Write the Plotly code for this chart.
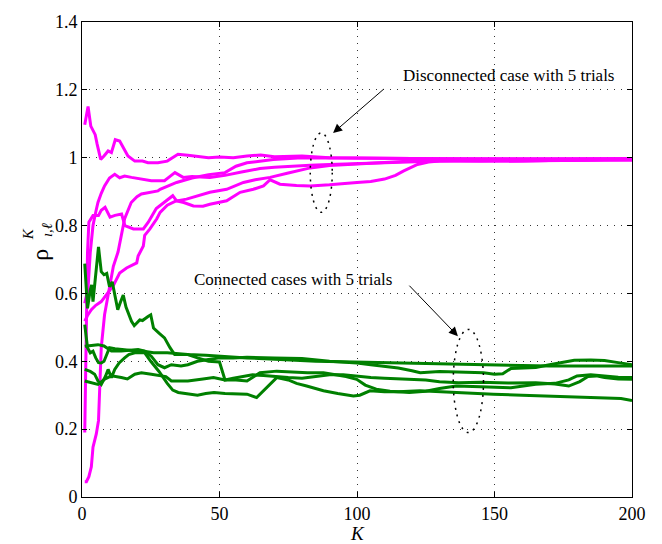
import plotly.graph_objects as go

# ---------------- data ----------------
# Disconnected case (magenta), 5 trials
m1_k = [1, 2.2, 3.2, 4.8, 5.5, 6.8, 8, 9.5, 10.7, 12.1, 13.7, 15, 16.7, 19.2, 22, 24, 27.6, 31, 34.9, 38.5, 42, 46, 50, 55, 60, 65, 70, 80, 90, 100, 110, 120, 130, 140, 150, 160, 170, 180, 190, 200]
m1_v = [1.097, 1.151, 1.093, 1.068, 1.04, 0.995, 1.005, 1.02, 1.015, 1.053, 1.049, 1.03, 1.005, 0.99, 0.99, 0.985, 0.985, 0.99, 1.01, 1.007, 1.003, 1.0, 1.002, 1.0, 1.005, 1.008, 1.003, 1.005, 1.0, 1.0, 0.998, 0.998, 0.997, 0.996, 0.995, 0.996, 0.996, 0.997, 0.998, 0.998]

m2_k = [1, 2.2, 3, 4, 5, 5.8, 7, 8.2, 10, 11.9, 13.7, 15.5, 18, 20.4, 25.2, 28.4, 30, 32, 33.8, 36.8, 40, 46.5, 52, 58, 64.7, 70, 75, 83, 90, 100, 110, 120, 130, 145, 160, 175, 190, 200]
m2_v = [0.571, 0.615, 0.72, 0.80, 0.84, 0.868, 0.895, 0.917, 0.94, 0.951, 0.941, 0.946, 0.942, 0.939, 0.932, 0.932, 0.932, 0.945, 0.956, 0.942, 0.945, 0.942, 0.948, 0.958, 0.968, 0.972, 0.975, 0.978, 0.98, 0.983, 0.986, 0.988, 0.99, 0.99, 0.99, 0.992, 0.993, 0.993]

m3_k = [1, 1.5, 2, 2.5, 4, 6, 7, 8.4, 10.2, 12, 14.4, 15.6, 18.7, 22.3, 24.1, 27, 30, 33, 34.4, 37, 40.5, 44, 46.5, 52.6, 57.5, 62.3, 66, 68.4, 72, 78, 83, 90, 100, 105, 110, 114, 117, 120, 122, 126, 130, 140, 150, 160, 170, 180, 190, 200]
m3_v = [0.19, 0.45, 0.72, 0.81, 0.83, 0.83, 0.845, 0.854, 0.825, 0.83, 0.834, 0.80, 0.79, 0.79, 0.81, 0.85, 0.868, 0.888, 0.873, 0.868, 0.858, 0.857, 0.863, 0.873, 0.898, 0.907, 0.917, 0.935, 0.922, 0.918, 0.917, 0.92, 0.927, 0.93, 0.937, 0.948, 0.961, 0.972, 0.98, 0.987, 0.99, 0.992, 0.99, 0.99, 0.992, 0.993, 0.994, 0.995]

m4_k = [1, 2, 3.4, 5, 7, 8, 10, 11.5, 13.7, 16.2, 18, 19.9, 20.4, 22.3, 22.8, 24.7, 27.2, 28.4, 31, 34, 38, 42, 46.5, 52.6, 58.7, 63, 68.4, 75, 83, 90, 100, 110, 120, 130, 145, 160, 175, 190, 200]
m4_v = [0.518, 0.535, 0.552, 0.565, 0.576, 0.586, 0.608, 0.625, 0.66, 0.675, 0.683, 0.69, 0.71, 0.74, 0.771, 0.79, 0.82, 0.839, 0.86, 0.872, 0.878, 0.888, 0.898, 0.907, 0.927, 0.935, 0.942, 0.955, 0.97, 0.977, 0.982, 0.986, 0.99, 0.992, 0.99, 0.991, 0.993, 0.993, 0.993]

m5_k = [1, 1.6, 2.5, 3.4, 4, 5.2, 6, 6.4, 7, 8.2, 10, 11.4, 13.1, 14.3, 15.5, 17.9, 20, 21.6, 24.6, 27.6, 28.4, 31, 34.4, 40, 46, 52, 56, 60, 64.7, 69.6, 80, 90, 100, 120, 140, 160, 180, 200]
m5_v = [0.045, 0.045, 0.06, 0.089, 0.147, 0.186, 0.225, 0.342, 0.44, 0.537, 0.615, 0.68, 0.722, 0.771, 0.82, 0.868, 0.885, 0.893, 0.898, 0.902, 0.907, 0.915, 0.927, 0.94, 0.95, 0.956, 0.975, 0.985, 0.99, 0.995, 1.0, 1.0, 1.0, 0.998, 0.997, 0.997, 0.998, 0.997]

# Connected cases (green), 5 trials
g1_k = [1, 2, 3, 3.5, 4, 5, 6, 7, 8, 9, 10, 11, 12, 13, 14, 15, 16, 17, 18, 19, 20, 21, 22, 23, 24, 25, 26, 28, 30, 32, 33.7, 36, 38.5, 42, 46, 50, 51, 52, 55, 58, 62, 66, 70, 75, 80, 85, 90, 95, 100, 105, 110, 115, 119, 125, 130, 137, 145, 155, 165, 172, 177, 181, 184, 187, 190, 195, 200]
g1_v = [0.688, 0.556, 0.61, 0.625, 0.576, 0.66, 0.737, 0.664, 0.655, 0.659, 0.62, 0.634, 0.595, 0.552, 0.575, 0.595, 0.56, 0.537, 0.518, 0.505, 0.515, 0.522, 0.52, 0.527, 0.532, 0.537, 0.498, 0.483, 0.469, 0.44, 0.42, 0.42, 0.42, 0.41, 0.40, 0.398, 0.37, 0.345, 0.35, 0.355, 0.36, 0.358, 0.355, 0.352, 0.35, 0.355, 0.36, 0.36, 0.355, 0.352, 0.35, 0.348, 0.347, 0.345, 0.34, 0.337, 0.338, 0.336, 0.337, 0.333, 0.327, 0.34, 0.355, 0.357, 0.352, 0.348, 0.347]

g2_k = [1, 2, 3, 4, 5, 6, 7, 8, 9, 10, 12, 14, 18, 22, 26, 31, 38.5, 45, 50, 60, 72, 85, 99, 110, 123, 135, 150, 160, 170, 185, 200]
g2_v = [0.508, 0.44, 0.425, 0.43, 0.41, 0.396, 0.395, 0.40, 0.42, 0.44, 0.437, 0.435, 0.432, 0.43, 0.425, 0.425, 0.42, 0.418, 0.415, 0.41, 0.405, 0.40, 0.398, 0.396, 0.394, 0.392, 0.39, 0.388, 0.386, 0.386, 0.386]

g3_k = [1, 3, 5.8, 8, 10.7, 14.3, 20.4, 22.8, 25.2, 27.6, 30, 32.5, 36, 38.5, 42, 46, 50, 55, 60, 70, 80, 90, 100, 105, 110, 115, 120, 123, 130, 138, 146, 150, 153, 156, 160, 165, 170, 175, 179, 185, 190, 195, 200]
g3_v = [0.444, 0.447, 0.449, 0.445, 0.43, 0.43, 0.435, 0.43, 0.415, 0.39, 0.381, 0.39, 0.386, 0.39, 0.40, 0.405, 0.41, 0.41, 0.412, 0.41, 0.408, 0.40, 0.395, 0.39, 0.385, 0.38, 0.372, 0.366, 0.37, 0.368, 0.366, 0.362, 0.363, 0.379, 0.38, 0.382, 0.39, 0.398, 0.403, 0.404, 0.402, 0.396, 0.39]

g4_k = [1, 3, 4.6, 5.8, 7, 8.5, 9.5, 10.7, 11.9, 13.5, 15.5, 17, 19.2, 22.8, 25, 28, 31, 33, 35, 38.5, 42, 45, 48, 52, 56, 60, 63.5, 65, 67, 70.8, 75, 78, 81.7, 87.8, 93, 98.7, 101, 104.7, 110, 115, 122.9, 130, 140, 149.6, 160, 167.7, 180, 192, 196, 200]
g4_v = [0.376, 0.37, 0.362, 0.342, 0.332, 0.355, 0.376, 0.352, 0.376, 0.395, 0.41, 0.42, 0.425, 0.425, 0.40, 0.37, 0.335, 0.315, 0.308, 0.303, 0.30, 0.305, 0.308, 0.305, 0.305, 0.303, 0.293, 0.305, 0.322, 0.352, 0.345, 0.335, 0.327, 0.313, 0.305, 0.298, 0.30, 0.313, 0.31, 0.31, 0.313, 0.31, 0.305, 0.303, 0.30, 0.298, 0.296, 0.293, 0.29, 0.284]

g5_k = [1, 3, 5.8, 8.2, 10.7, 14.3, 16.5, 19.2, 21.6, 25.2, 28.8, 30.5, 32.5, 35, 38.5, 44, 47.8, 52, 56, 60, 64.7, 70.8, 76, 82, 87.8, 92, 96, 99.9, 103, 107, 112, 119, 125, 130, 136, 145, 156, 165, 172, 177, 180, 185, 190, 195, 200]
g5_v = [0.342, 0.337, 0.332, 0.347, 0.357, 0.352, 0.348, 0.362, 0.366, 0.362, 0.357, 0.355, 0.342, 0.342, 0.342, 0.348, 0.352, 0.345, 0.345, 0.342, 0.366, 0.371, 0.368, 0.366, 0.366, 0.36, 0.355, 0.347, 0.33, 0.318, 0.312, 0.308, 0.312, 0.32, 0.327, 0.325, 0.322, 0.332, 0.335, 0.345, 0.357, 0.36, 0.356, 0.353, 0.352]

x_ticks = [0, 50, 100, 150, 200]
y_ticks = [0, 0.2, 0.4, 0.6, 0.8, 1.0, 1.2, 1.4]
y_tick_text = ["0", "0.2", "0.4", "0.6", "0.8", "1", "1.2", "1.4"]

magenta = [(m1_k, m1_v), (m2_k, m2_v), (m3_k, m3_v), (m4_k, m4_v), (m5_k, m5_v)]
green = [(g1_k, g1_v), (g2_k, g2_v), (g3_k, g3_v), (g4_k, g4_v), (g5_k, g5_v)]

label_disc = "Disconnected case with 5 trials"
label_conn = "Connected cases with 5 trials"

# ---------------- figure ----------------
FONT = "Liberation Serif, Times New Roman, serif"
fig = go.Figure()
for k, v in magenta:
    fig.add_trace(go.Scatter(x=k, y=v, mode="lines",
                             line=dict(color="#FF00FF", width=3), showlegend=False))
for k, v in green:
    fig.add_trace(go.Scatter(x=k, y=v, mode="lines",
                             line=dict(color="#008000", width=3), showlegend=False))

axis_common = dict(showline=True, linecolor="black", linewidth=1, mirror="allticks",
                   ticks="inside", ticklen=5, tickcolor="black",
                   showgrid=True, gridcolor="#333333", griddash="1px,6px", gridwidth=1,
                   zeroline=False, tickfont=dict(family=FONT, size=18, color="black"))

fig.update_layout(
    width=662, height=544,
    margin=dict(l=82, r=30, t=18, b=47),
    paper_bgcolor="white", plot_bgcolor="white",
    font=dict(family=FONT, color="black"),
    xaxis=dict(range=[0, 200], tickvals=x_ticks, **axis_common),
    yaxis=dict(range=[0, 1.4], tickvals=y_ticks, ticktext=y_tick_text, **axis_common),
)

# dotted ellipses
fig.add_shape(type="circle", xref="x", yref="y", x0=83, x1=91, y0=0.839, y1=1.073,
              line=dict(color="black", width=1.5, dash="2px,5px"))
fig.add_shape(type="circle", xref="x", yref="y", x0=135, x1=146, y0=0.19, y1=0.494,
              line=dict(color="black", width=1.5, dash="2px,5px"))

# arrows
fig.add_annotation(x=91.3, y=1.073, xref="x", yref="y", ax=52, ay=-45, text="",
                   showarrow=True, arrowhead=2, arrowsize=1.8, arrowwidth=1, arrowcolor="black")
fig.add_annotation(x=136.7, y=0.474, xref="x", yref="y", ax=-50, ay=-52, text="",
                   showarrow=True, arrowhead=2, arrowsize=1.8, arrowwidth=1, arrowcolor="black")

# texts
fig.add_annotation(x=155.3, y=1.243, xref="x", yref="y", text=label_disc, showarrow=False,
                   xanchor="center", yanchor="middle",
                   font=dict(family=FONT, size=17, color="black"))
fig.add_annotation(x=76.9, y=0.640, xref="x", yref="y", text=label_conn, showarrow=False,
                   xanchor="center", yanchor="middle",
                   font=dict(family=FONT, size=17, color="black"))

# axis titles
fig.add_annotation(x=0.5, y=-0.077, xref="paper", yref="paper", text="<i>K</i>", showarrow=False,
                   xanchor="center", yanchor="middle",
                   font=dict(family=FONT, size=19, color="black"))
fig.add_annotation(x=0, xshift=-42, y=0.51, xref="paper", yref="paper", text="ρ", showarrow=False,
                   xanchor="center", yanchor="middle",
                   textangle=-90, font=dict(family=FONT, size=24, color="black"))
fig.add_annotation(x=0, xshift=-54, y=0.553, xref="paper", yref="paper", text="<i>K</i>", showarrow=False,
                   xanchor="center", yanchor="middle",
                   textangle=-90, font=dict(family=FONT, size=15, color="black"))
fig.add_annotation(x=0, xshift=-35, y=0.562, xref="paper", yref="paper", text="<i>ı,ℓ</i>", showarrow=False,
                   xanchor="center", yanchor="middle",
                   textangle=-90, font=dict(family=FONT, size=15, color="black"))

fig.write_html("out.html")
